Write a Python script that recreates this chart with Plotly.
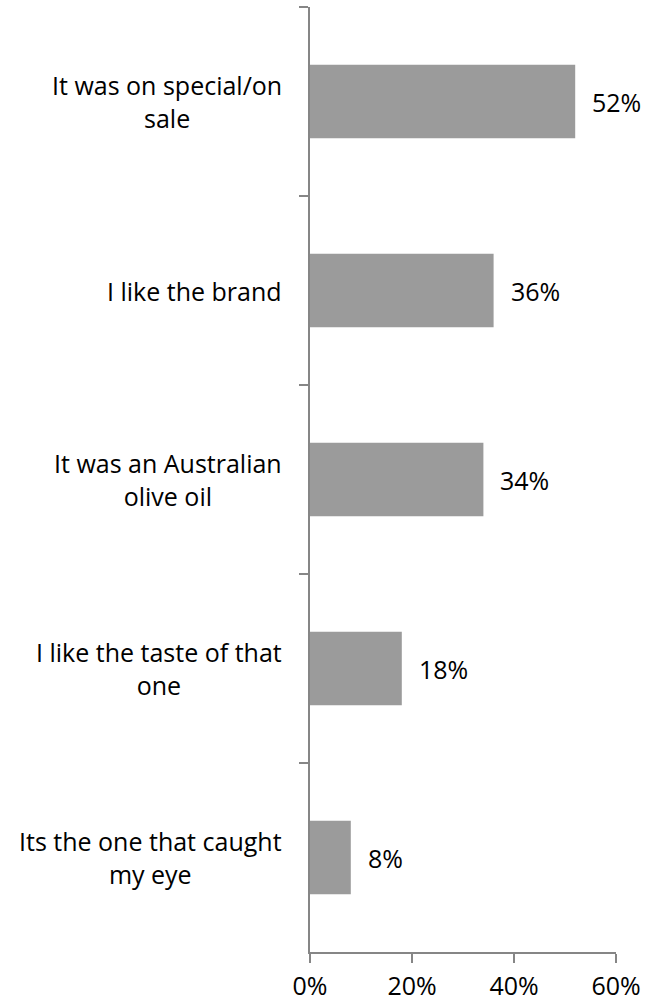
import plotly.graph_objects as go

# Reasons for choosing the olive oil, share of respondents
categories = [
    "It was on special/on<br>sale",
    "I like the brand",
    "It was an Australian<br>olive oil",
    "I like the taste of that<br>one",
    "Its the one that caught<br>my eye",
]
values = [52, 36, 34, 18, 8]
x_ticks = [0, 20, 40, 60]
x_tick_labels = ["0%", "20%", "40%", "60%"]

FONT = "Open Sans"
FONT_SIZE = 25
BAR_COLOR = "#9B9B9B"
AXIS_COLOR = "#868686"

fig = go.Figure(
    go.Bar(
        x=values,
        y=categories,
        orientation="h",
        marker=dict(color=BAR_COLOR, line=dict(width=0)),
        hoverinfo="skip",
    )
)

annotations = []
# value labels to the right of each bar
for cat, v in zip(categories, values):
    annotations.append(dict(
        x=v, y=cat, xref="x", yref="y",
        text=f"{v}%", showarrow=False,
        xanchor="left", yanchor="middle", xshift=15,
        font=dict(family=FONT, size=FONT_SIZE, color="#000000"),
    ))
# category labels, centred line by line, left of the axis
for cat in categories:
    annotations.append(dict(
        x=0, y=cat, xref="paper", yref="y",
        text=cat, showarrow=False, align="center",
        xanchor="right", yanchor="middle", xshift=-26,
        font=dict(family=FONT, size=FONT_SIZE, color="#000000"),
    ))

fig.update_layout(
    width=645, height=1001,
    margin=dict(l=310, r=29, t=7, b=49),
    paper_bgcolor="white", plot_bgcolor="white",
    bargap=0.61,
    showlegend=False,
    annotations=annotations,
    font=dict(family=FONT, size=FONT_SIZE, color="#000000"),
)
fig.update_xaxes(
    range=[0, 60],
    tickvals=x_ticks, ticktext=x_tick_labels,
    showgrid=False, zeroline=False,
    showline=True, linecolor=AXIS_COLOR, linewidth=1.5,
    ticks="outside", ticklen=9, tickwidth=1.5, tickcolor=AXIS_COLOR,
    ticklabelstandoff=2, automargin=False,
    tickfont=dict(family=FONT, size=FONT_SIZE, color="#000000"),
    fixedrange=True,
)
fig.update_yaxes(
    autorange="reversed",
    showticklabels=False,
    showgrid=False, zeroline=False,
    showline=True, linecolor=AXIS_COLOR, linewidth=1.5,
    ticks="outside", tickson="boundaries", ticklen=9, tickwidth=1.5,
    tickcolor=AXIS_COLOR,
    automargin=False,
    fixedrange=True,
)

fig.write_html("out.html", config={"displayModeBar": False})
